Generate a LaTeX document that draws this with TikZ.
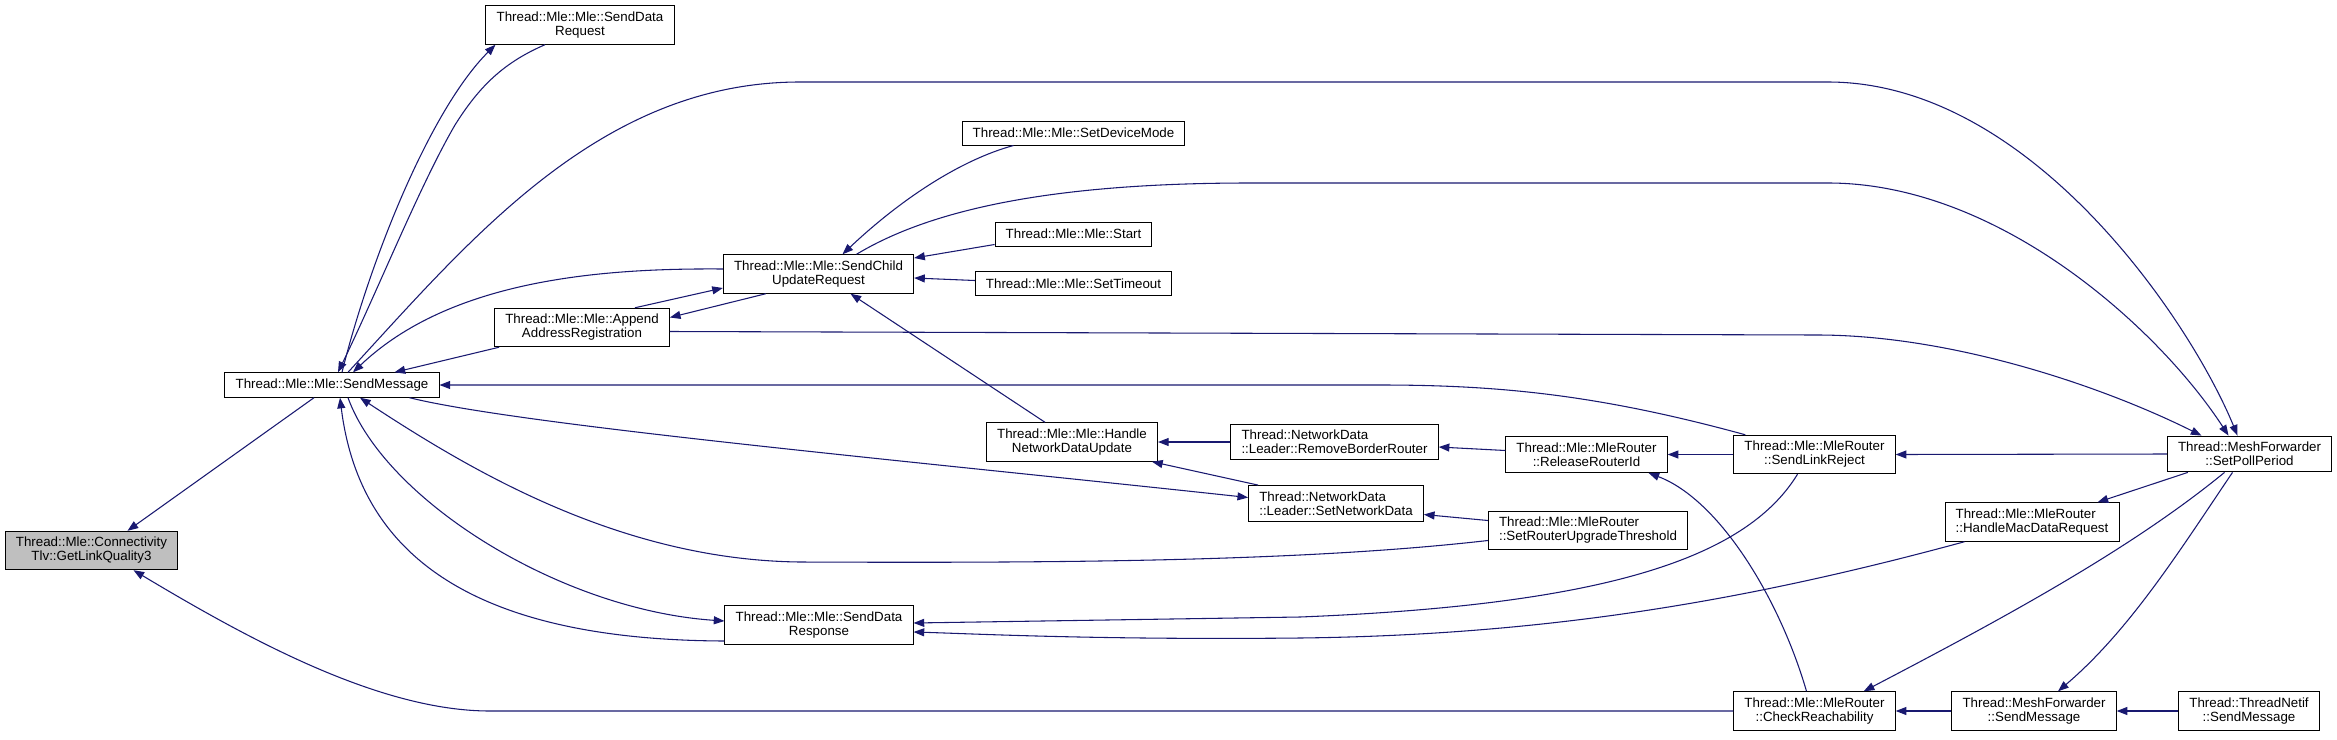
\documentclass[tikz,border=0pt]{standalone}
\usepackage{fontspec}
\setmainfont{Liberation Sans}
\usetikzlibrary{arrows.meta,calc}
\definecolor{EdgeBlue}{RGB}{25,25,112}
\definecolor{RootGray}{RGB}{191,191,191}

\begin{document}
\begin{tikzpicture}[x=0.75pt,y={(0pt,-0.75pt)},>={Triangle[length=8pt,width=6pt]},
  fnode/.style={draw=black,line width=0.75pt,fill=white,rectangle,align=center,
    inner xsep=8pt,inner ysep=4.5pt,minimum height=18pt,
    font=\fontsize{10}{10.5}\selectfont},
  fleft/.style={fnode,align=left},
  call/.style={->,draw=EdgeBlue,line width=0.8pt}]
  \useasboundingbox (0,0) rectangle (2337,739);

  % functions, one column per rank
  \node[fnode,fill=RootGray] (glq) at (91.5,550.5) {Thread::Mle::Connectivity\\Tlv::GetLinkQuality3};
  \node[fnode] (sendmsg) at (332,385) {Thread::Mle::Mle::SendMessage};
  \node[fnode] (sdreq) at (580,25) {Thread::Mle::Mle::SendData\\Request};
  \node[fnode] (append) at (582,327.5) {Thread::Mle::Mle::Append\\AddressRegistration};
  \node[fnode] (scur) at (818.5,274) {Thread::Mle::Mle::SendChild\\UpdateRequest};
  \node[fnode] (sdresp) at (819,625) {Thread::Mle::Mle::SendData\\Response};
  \node[fnode] (setdev) at (1073.5,133) {Thread::Mle::Mle::SetDeviceMode};
  \node[fnode] (start) at (1073.5,234) {Thread::Mle::Mle::Start};
  \node[fnode] (settimeout) at (1073.5,283.5) {Thread::Mle::Mle::SetTimeout};
  \node[fnode] (hndu) at (1072,442) {Thread::Mle::Mle::Handle\\NetworkDataUpdate};
  \node[fleft] (rbr) at (1334.5,442) {Thread::NetworkData\\::Leader::RemoveBorderRouter};
  \node[fleft] (snd) at (1336,503.5) {Thread::NetworkData\\::Leader::SetNetworkData};
  \node[fnode] (rri) at (1586.5,454.5) {Thread::Mle::MleRouter\\::ReleaseRouterId};
  \node[fleft] (srut) at (1588,530.5) {Thread::Mle::MleRouter\\::SetRouterUpgradeThreshold};
  \node[fnode] (slr) at (1814.5,454.5) {Thread::Mle::MleRouter\\::SendLinkReject};
  \node[fnode] (cr) at (1814.5,711) {Thread::Mle::MleRouter\\::CheckReachability};
  \node[fleft] (hmdr) at (2032,522) {Thread::Mle::MleRouter\\::HandleMacDataRequest};
  \node[fnode] (mfsm) at (2034,711) {Thread::MeshForwarder\\::SendMessage};
  \node[fnode] (spp) at (2249.5,454) {Thread::MeshForwarder\\::SetPollPeriod};
  \node[fnode] (tnsm) at (2249,711) {Thread::ThreadNetif\\::SendMessage};

  % calls into the root
  \draw[call] ($(sendmsg.south)+(-18,0)$) -- ($(glq.north)+(36,0)$);
  \draw[call] (cr.west) -- (490,711) .. controls (380,711) and (250,640) .. ($(glq.south)+(42,0)$);

  % around SendMessage
  \draw[call] ($(sendmsg.north)+(10,0)$) .. controls (370,260) and (430,110) .. ($(sdreq.south west)+(10,0)$);
  \draw[call] ($(sdreq.south)+(-35,0)$) .. controls (505,62) and (480,85) .. (455,125)
    .. controls (420,185) and (378,290) .. ($(sendmsg.north)+(6,0)$);
  \draw[call] ($(sendmsg.north)+(16,0)$) .. controls (470,240) and (600,82) .. (800,82) -- (1828,82)
    .. controls (2030,82) and (2190,320) .. ($(spp.north)+(-12,0)$);
  \draw[call] ($(scur.west)+(0,-5)$) .. controls (600,268) and (450,280) .. ($(sendmsg.north)+(21,0)$);
  \draw[call] ($(append.south west)+(5,0)$) -- ($(sendmsg.north east)+(-45,0)$);
  \draw[call] ($(slr.north west)+(12,0)$) .. controls (1600,395) and (1500,385) .. (1380,385) -- (sendmsg.east);
  \draw[call] ($(sendmsg.south east)+(-30,0)$) .. controls (520,425) and (900,460) .. ($(snd.west)+(0,-6)$);
  \draw[call] ($(sendmsg.south)+(16,0)$) .. controls (385,500) and (560,610) .. ($(sdresp.west)+(0,-4)$);
  \draw[call] ($(sdresp.west)+(0,16)$) .. controls (480,640) and (360,560) .. ($(sendmsg.south)+(8,0)$);
  \draw[call] ($(srut.west)+(0,10)$) .. controls (1300,562) and (1050,563) .. (800,562)
    .. controls (620,560) and (470,470) .. ($(sendmsg.south)+(28,0)$);

  % around SendChildUpdateRequest
  \draw[call] ($(append.north east)+(-35,0)$) -- ($(scur.west)+(0,14)$);
  \draw[call] ($(scur.south west)+(43,0)$) -- ($(append.east)+(0,-10)$);
  \draw[call] ($(scur.north)+(38,0)$) .. controls (930,210) and (1050,183) .. (1250,183) -- (1828,183)
    .. controls (2000,183) and (2160,330) .. ($(spp.north)+(-21,0)$);
  \draw[call] ($(append.east)+(0,4)$) -- (1817,335) .. controls (1950,335) and (2100,385) .. ($(spp.north)+(-48,0)$);
  \draw[call] ($(setdev.south)+(-60,0)$) .. controls (960,160) and (900,200) .. ($(scur.north)+(24,0)$);
  \draw[call] ($(start.south west)+(0,-2)$) -- ($(scur.east)+(0,-16)$);
  \draw[call] ($(settimeout.west)+(0,-3)$) -- ($(scur.east)+(0,4)$);
  \draw[call] ($(hndu.north)+(-27,0)$) -- ($(scur.south)+(32,0)$);

  % network data and router
  \draw[call] (rbr.west) -- (hndu.east);
  \draw[call] ($(snd.north west)+(10,0)$) -- ($(hndu.south east)+(-6,0)$);
  \draw[call] ($(srut.west)+(0,-10)$) -- ($(snd.east)+(0,11)$);
  \draw[call] ($(rri.west)+(0,-4)$) -- ($(rbr.east)+(0,5)$);
  \draw[call] (slr.west) -- (rri.east);
  \draw[call] ($(cr.north)+(-8,0)$) .. controls (1780,600) and (1720,500) .. ($(rri.south)+(62,0)$);
  \draw[call] ($(slr.south)+(-17,0)$) .. controls (1745,560) and (1600,605) .. (1300,617) -- ($(sdresp.east)+(0,-2)$);
  \draw[call] ($(hmdr.south west)+(20,0)$) .. controls (1750,600) and (1550,635) .. (1300,638)
    .. controls (1100,640) and (980,634) .. ($(sdresp.east)+(0,7)$);

  % mesh forwarder
  \draw[call] (spp.west) -- (slr.east);
  \draw[call] ($(spp.south west)+(21,0)$) -- ($(hmdr.north east)+(-22,0)$);
  \draw[call] ($(spp.south)+(-25,0)$) .. controls (2130,550) and (2000,620) .. ($(cr.north east)+(-32,0)$);
  \draw[call] ($(spp.south)+(-17,0)$) .. controls (2180,550) and (2130,630) .. ($(mfsm.north)+(24,0)$);
  \draw[call] (mfsm.west) -- (cr.east);
  \draw[call] (tnsm.west) -- (mfsm.east);
\end{tikzpicture}
\end{document}
